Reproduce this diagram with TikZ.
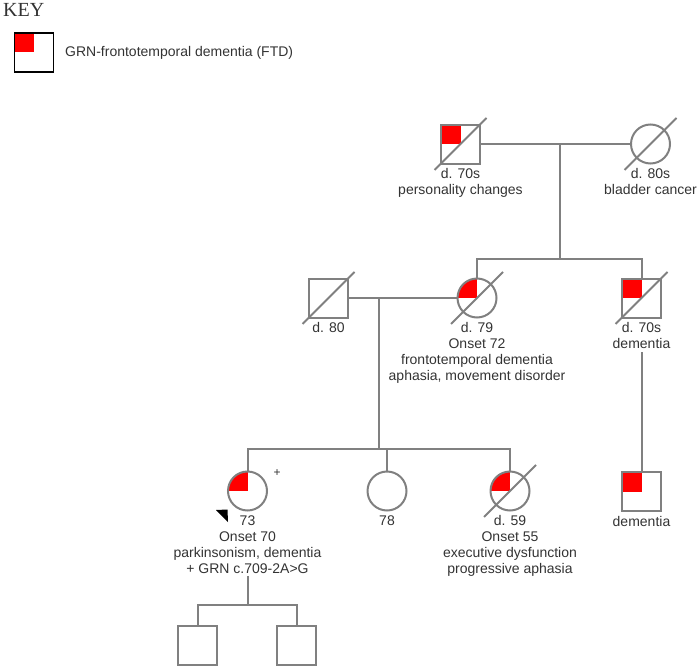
\documentclass[tikz,border=0pt]{standalone}
\usepackage{fontspec}
\setmainfont{Liberation Sans}
\newfontfamily\keyfont{Liberation Serif}
\definecolor{lgray}{HTML}{808080}
\definecolor{txt}{HTML}{333333}
\definecolor{ftdred}{HTML}{FF0000}
\newcommand\deceased[1]{\draw[ln] ([shift={(-26,26)}]#1.center) -- ([shift={(26,-26)}]#1.center);}
\begin{document}
\begin{tikzpicture}[x=1pt,y=-1pt,
  ln/.style={draw=lgray, line width=2pt},
  male/.style={rectangle, draw=lgray, line width=2pt, fill=white, minimum size=39pt, inner sep=0pt},
  female/.style={circle, draw=lgray, line width=2pt, fill=white, minimum size=39pt, inner sep=0pt},
  ftd/.style={path picture={\fill[ftdred] (path picture bounding box.center) rectangle (path picture bounding box.north west);}},
  lbl/.style={anchor=north, inner sep=0pt, align=center, font=\fontsize{14}{16}\selectfont, text=txt}]
\useasboundingbox (0,0) rectangle (698,669);

% key
\node[anchor=base west, inner sep=0pt, font=\keyfont\fontsize{20}{24}\selectfont, text=txt] (keytitle) at (3,17) {KEY};
\node[rectangle, draw=black, line width=1.6pt, fill=white, minimum size=39pt, inner sep=0pt, ftd] (keybox) at (34,52.5) {};
\node[anchor=west, inner sep=0pt, font=\fontsize{14}{16}\selectfont, text=txt] (keytext) at (65,53) {GRN-frontotemporal dementia (FTD)};

% generation I
\node[male, ftd] (gf) at (460.5,144) {};
\node[female] (gm) at (650.5,144) {};
\deceased{gf}
\deceased{gm}
\node[lbl] (gfl) at ([yshift=-4pt]gf.south) {d. 70s\\personality changes};
\node[lbl] (gml) at ([yshift=-4pt]gm.south) {d. 80s\\bladder cancer};
\coordinate (gmid) at (560,144);
\coordinate (s2) at (560,259);
\draw[ln] (gf.east) -- (gm.west);
\draw[ln] (gmid) -- (s2);

% generation II
\node[male] (fa) at (328.5,298) {};
\node[female, ftd] (mo) at (477,298) {};
\node[male, ftd] (un) at (641.5,298) {};
\deceased{fa}
\deceased{mo}
\deceased{un}
\node[lbl] (fal) at ([yshift=-4pt]fa.south) {d. 80};
\node[lbl] (mol) at ([yshift=-4pt]mo.south) {d. 79\\Onset 72\\frontotemporal dementia\\aphasia, movement disorder};
\node[lbl] (unl) at ([yshift=-4pt]un.south) {d. 70s\\dementia};
\draw[ln] (mo.north) -- (mo.north |- s2) -- (un.north |- s2) -- (un.north);
\coordinate (fmid) at (379,298);
\coordinate (s3) at (379,449);
\draw[ln] (fa.east) -- (mo.west);
\draw[ln] (fmid) -- (s3);

% generation III
\node[female, ftd] (pb) at (247.5,491) {};
\node[female] (c78) at (387,491) {};
\node[female, ftd] (d59) at (510,491) {};
\node[male, ftd] (son) at (641.5,491.5) {};
\deceased{d59}
\node[lbl] (pbl) at ([yshift=-4pt]pb.south) {73\\Onset 70\\parkinsonism, dementia\\+ GRN c.709-2A>G};
\node[lbl] (c78l) at ([yshift=-4pt]c78.south) {78};
\node[lbl] (d59l) at ([yshift=-4pt]d59.south) {d. 59\\Onset 55\\executive dysfunction\\progressive aphasia};
\node[lbl] (sonl) at ([yshift=-4pt]son.south) {dementia};
\node[inner sep=0pt, font=\fontsize{12}{14}\selectfont, text=txt] (plus) at (277,473) {+};
\fill[black] (216,510) -- (227.5,509.5) -- (228,522) -- cycle;
\draw[ln] (pb.north) -- (pb.north |- s3) -- (d59.north |- s3) -- (d59.north);
\draw[ln] (c78.north) -- (c78.north |- s3);
\draw[ln] ([yshift=-3pt]unl.south) -- (son.north);

% generation IV
\node[male] (k1) at (197.5,645.5) {};
\node[male] (k2) at (296.5,645.5) {};
\coordinate (pd) at (247.5,605);
\draw[ln] ([yshift=-2pt]pbl.south) -- (pd);
\draw[ln] (k1.north) -- (k1.north |- pd) -- (k2.north |- pd) -- (k2.north);
\end{tikzpicture}
\end{document}
